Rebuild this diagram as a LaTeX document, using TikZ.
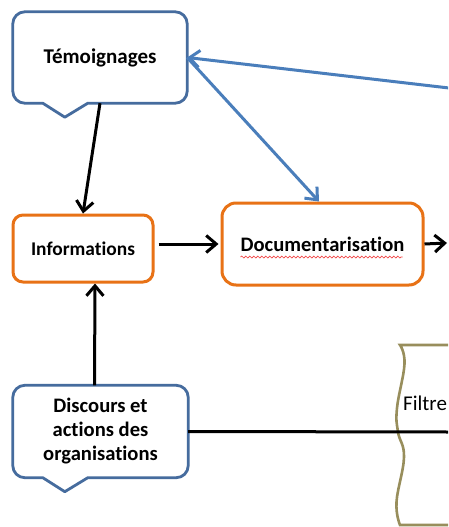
\documentclass[tikz,border=0pt]{standalone}
\usepackage{fontspec}
\setmainfont{Carlito}[Ligatures={NoCommon}]
\usetikzlibrary{arrows.meta,decorations.pathmorphing,calc}
\definecolor{callblue}{RGB}{70,108,158}
\definecolor{arrblue}{RGB}{74,126,187}
\definecolor{orng}{RGB}{232,114,22}
\definecolor{olivegold}{RGB}{152,142,92}
\definecolor{spellred}{RGB}{240,60,60}
\begin{document}
\begin{tikzpicture}[x=1pt,y=-1pt,
  callbox/.style={draw=none, inner sep=0pt,
    font=\bfseries\fontsize{20.6}{24}\selectfont, align=center, minimum width=175pt, minimum height=92pt},
  calloutline/.style={draw=callblue, line width=2.8pt, line join=round},
  procbox/.style={draw=orng, line width=3pt, fill=white, inner sep=0pt,
    font=\bfseries\fontsize{20.6}{24}\selectfont},
  blk/.style={draw=black, line width=3pt, -{Straight Barb[length=10pt,width=17pt]}},
  plainline/.style={draw=black, line width=3pt},
  blu/.style={draw=arrblue, line width=3pt, -{Straight Barb[length=10pt,width=17pt]}},
  filtreline/.style={draw=olivegold, line width=2.6pt},
]
\useasboundingbox (0,0) rectangle (448,527);
\clip (0,0) rectangle (448,527);
\fill[white] (0,0) rectangle (448,527);

% Filtre shape
\draw[filtreline] (470,345) -- (400,345) -- plot[smooth, tension=0.7] coordinates {(400,345) (404.5,364) (397,408) (398,432) (404,457) (396.5,502) (400,525)} -- (470,525);
\node[font=\fontsize{21}{24}\selectfont, anchor=base west, inner sep=0pt] (filtre) at (403,410) {Filtre};

% Callout: Temoignages
\node[callbox, minimum width=174pt, minimum height=91pt, font=\bfseries\fontsize{21}{24}\selectfont] (tem) at (100,57.5) {Témoignages};
\draw[calloutline] ([xshift=75pt]tem.south west) -- ([xshift=-12pt]tem.south east)
  arc[start angle=-90, end angle=0, radius=12pt] -- ([yshift=-12pt]tem.north east)
  arc[start angle=0, end angle=90, radius=12pt] -- ([xshift=12pt]tem.north west)
  arc[start angle=90, end angle=180, radius=12pt] -- ([yshift=12pt]tem.south west)
  arc[start angle=180, end angle=270, radius=12pt] -- ([xshift=30pt]tem.south west)
  -- ([xshift=52pt,yshift=-14pt]tem.south west) -- cycle;

% Callout: Discours
\node[callbox] (disc) at (100.5,431.5) {Discours et\\actions des\\organisations};
\draw[calloutline] ([xshift=75pt]disc.south west) -- ([xshift=-12pt]disc.south east)
  arc[start angle=-90, end angle=0, radius=12pt] -- ([yshift=-12pt]disc.north east)
  arc[start angle=0, end angle=90, radius=12pt] -- ([xshift=12pt]disc.north west)
  arc[start angle=90, end angle=180, radius=12pt] -- ([yshift=12pt]disc.south west)
  arc[start angle=180, end angle=270, radius=12pt] -- ([xshift=30pt]disc.south west)
  -- ([xshift=52pt,yshift=-14pt]disc.south west) -- cycle;

% Process boxes
\node[procbox, rounded corners=10pt, minimum width=140pt, minimum height=67pt,
  font=\bfseries\fontsize{19.4}{23}\selectfont] (info) at (83,248.5) {Informations};
\node[procbox, rounded corners=14pt, minimum width=201pt, minimum height=82pt] (doc) at (322.5,244) {Documentarisation};
\draw[spellred, line width=0.7pt, decoration={snake, segment length=4pt, amplitude=1pt}, decorate]
  ([xshift=-82pt,yshift=-13pt]doc.center) -- ([xshift=80pt,yshift=-13pt]doc.center);

% Connectors
\coordinate (rin) at (449,88);
\coordinate (rdoc) at (447,243);
\coordinate (rdisc) at (449,432);
\draw[blk] (tem.south) -- (info.north);
\draw[blk] ([xshift=-6pt]disc.north) -- ([xshift=12pt]info.south);
\draw[blk, shorten <=4pt, shorten >=2pt] (info.east |- doc.west) -- (doc.west);
\draw[blk] (doc.east) -- (rdoc);
\draw[plainline] (disc.east) -- (rdisc);
\draw[blu] (rin) -- (tem.east);
\draw[blu] (tem.east) -- ([xshift=-3.5pt]doc.north);
\end{tikzpicture}
\end{document}
